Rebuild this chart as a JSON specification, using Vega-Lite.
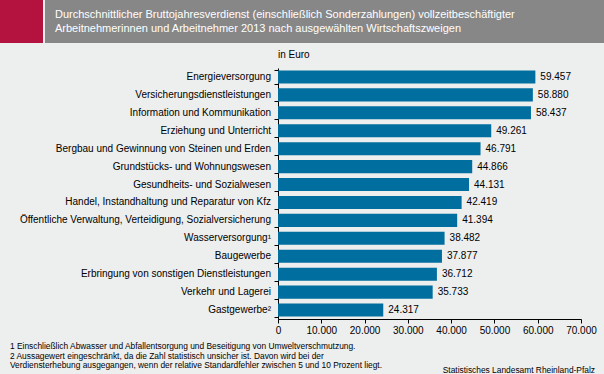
{
  "$schema": "https://vega.github.io/schema/vega-lite/v6.json",
  "background": "#EDEEEE",
  "padding": 0,
  "spacing": 7,
  "config": {
    "view": {"stroke": null},
    "font": "Liberation Sans",
    "locale": {"number": {"decimal": ",", "thousands": ".", "grouping": [3], "currency": ["", " €"]}}
  },
  "vconcat": [
    {
      "spacing": 2,
      "hconcat": [
        {
          "width": 43,
          "height": 43,
          "view": {"fill": "#B41340", "stroke": null},
          "data": {"values": [{"t": ""}]},
          "mark": "text",
          "encoding": {"text": {"field": "t"}}
        },
        {
          "width": 559,
          "height": 43,
          "view": {"fill": "#878787", "stroke": null},
          "data": {"values": [{"titel": ["Durchschnittlicher Bruttojahresverdienst (einschließlich Sonderzahlungen) vollzeitbeschäftigter", "Arbeitnehmerinnen und Arbeitnehmer 2013 nach ausgewählten Wirtschaftszweigen"]}]},
          "mark": {"type": "text", "align": "left", "baseline": "middle", "fontSize": 11, "lineHeight": 14.5, "color": "white", "dx": 10, "dy": -7},
          "encoding": {
            "text": {"field": "titel"},
            "x": {"datum": 0, "type": "quantitative", "scale": {"domain": [0, 1]}, "axis": null},
            "y": {"datum": 0.5, "type": "quantitative", "scale": {"domain": [0, 1]}, "axis": null}
          }
        }
      ]
    },
    {
      "spacing": 0,
      "data": {"values": [
        {"zweig": "Energieversorgung", "euro": 59457},
        {"zweig": "Versicherungsdienstleistungen", "euro": 58880},
        {"zweig": "Information und Kommunikation", "euro": 58437},
        {"zweig": "Erziehung und Unterricht", "euro": 49261},
        {"zweig": "Bergbau und Gewinnung von Steinen und Erden", "euro": 46791},
        {"zweig": "Grundstücks- und Wohnungswesen", "euro": 44866},
        {"zweig": "Gesundheits- und Sozialwesen", "euro": 44131},
        {"zweig": "Handel, Instandhaltung und Reparatur von Kfz", "euro": 42419},
        {"zweig": "Öffentliche Verwaltung, Verteidigung, Sozialversicherung", "euro": 41394},
        {"zweig": "Wasserversorgung¹", "euro": 38482},
        {"zweig": "Baugewerbe", "euro": 37877},
        {"zweig": "Erbringung von sonstigen Dienstleistungen", "euro": 36712},
        {"zweig": "Verkehr und Lagerei", "euro": 35733},
        {"zweig": "Gastgewerbe²", "euro": 24317}
      ]},
      "hconcat": [
        {
          "width": 273,
          "height": 251,
          "mark": {"type": "text", "align": "right", "baseline": "middle", "fontSize": 10, "dx": -2, "color": "black"},
          "encoding": {
            "y": {"field": "zweig", "type": "nominal", "sort": null, "scale": {"paddingInner": 0.27, "paddingOuter": 0.135}, "axis": null},
            "x": {"datum": 1, "type": "quantitative", "scale": {"domain": [0, 1]}, "axis": null},
            "text": {"field": "zweig"}
          }
        },
        {
          "width": 303,
          "height": 251,
          "title": {"text": "in Euro", "anchor": "start", "frame": "group", "fontSize": 10, "fontWeight": "normal", "color": "black", "offset": 8},
          "encoding": {
            "y": {
              "field": "zweig", "type": "nominal", "sort": null,
              "scale": {"paddingInner": 0.27, "paddingOuter": 0.135},
              "axis": {"title": null, "labels": false, "tickBand": "extent", "tickSize": 4, "domainColor": "black", "tickColor": "black", "minExtent": 0}
            },
            "x": {
              "field": "euro", "type": "quantitative",
              "scale": {"domain": [0, 70000], "nice": false},
              "axis": {"title": null, "values": [0, 10000, 20000, 30000, 40000, 50000, 60000, 70000], "grid": false, "tickSize": 4, "labelFontSize": 10, "labelColor": "black", "domainColor": "black", "tickColor": "black", "format": ",d", "labelPadding": 2, "labelFlush": false, "labelOverlap": false}
            }
          },
          "layer": [
            {"mark": {"type": "bar", "color": "#006E9E"}},
            {
              "mark": {"type": "text", "align": "left", "baseline": "middle", "dx": 5, "fontSize": 10, "color": "black"},
              "encoding": {"text": {"field": "euro", "type": "quantitative", "format": ",d"}}
            }
          ]
        }
      ]
    },
    {
      "width": 604,
      "height": 36,
      "layer": [
        {
          "data": {"values": [{"t": ["1 Einschließlich Abwasser und Abfallentsorgung und Beseitigung von Umweltverschmutzung.", "2 Aussagewert eingeschränkt, da die Zahl statistisch unsicher ist. Davon wird bei der", "Verdiensterhebung ausgegangen, wenn der relative Standardfehler zwischen 5 und 10 Prozent liegt."]}]},
          "mark": {"type": "text", "align": "left", "baseline": "top", "fontSize": 8.4, "lineHeight": 9.7, "dx": 10, "dy": -3, "color": "black"},
          "encoding": {
            "text": {"field": "t"},
            "x": {"datum": 0, "type": "quantitative", "scale": {"domain": [0, 1]}, "axis": null},
            "y": {"datum": 1, "type": "quantitative", "scale": {"domain": [0, 1]}, "axis": null}
          }
        },
        {
          "data": {"values": [{"t": "Statistisches Landesamt Rheinland-Pfalz"}]},
          "mark": {"type": "text", "align": "right", "baseline": "bottom", "fontSize": 8.4, "dx": -9, "dy": -6, "color": "black"},
          "encoding": {
            "text": {"field": "t"},
            "x": {"datum": 1, "type": "quantitative"},
            "y": {"datum": 0, "type": "quantitative"}
          }
        }
      ]
    }
  ]
}
